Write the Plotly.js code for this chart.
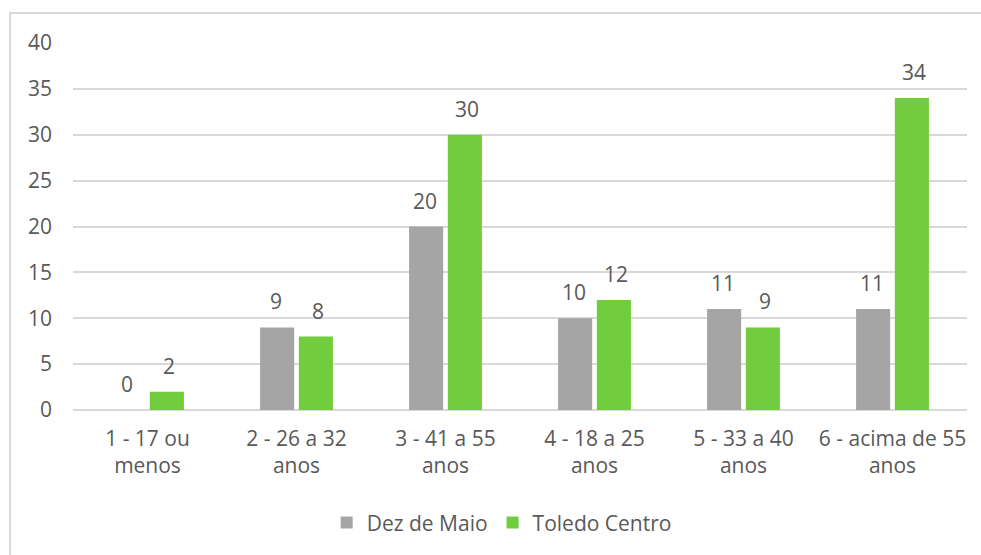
<!DOCTYPE html>
<html>
<head>
<meta charset="utf-8">
<script src="https://cdn.plot.ly/plotly-3.0.1.min.js"></script>
<style>
html,body{margin:0;padding:0;background:#fff;width:981px;height:555px;overflow:hidden;}
#frame{position:absolute;left:9px;top:12px;width:980px;height:550px;border:2px solid #d9d9d9;box-sizing:border-box;}
#chart{position:absolute;left:0;top:0;width:981px;height:555px;}
</style>
</head>
<body>
<div id="frame"></div>
<div id="chart"></div>
<script>
const categories = ["1 - 17 ou<br>menos", "2 - 26 a 32<br>anos", "3 - 41 a 55<br>anos", "4 - 18 a 25<br>anos", "5 - 33 a 40<br>anos", "6 - acima de 55<br>anos"];
const seriesNames = ["Dez de Maio", "Toledo Centro"];
const dezDeMaio = [0, 9, 20, 10, 11, 11];
const toledoCentro = [2, 8, 30, 12, 9, 34];
const yTicks = [0, 5, 10, 15, 20, 25, 30, 35, 40];

const txt = '#595959';
const fontFam = '"Open Sans", "Noto Sans", sans-serif';
const fs = 21;

const traces = [
  {type:'bar', name:seriesNames[0], x:categories, y:dezDeMaio, marker:{color:'#a5a5a5'}, hoverinfo:'none'},
  {type:'bar', name:seriesNames[1], x:categories, y:toledoCentro, marker:{color:'#71cc3e'}, hoverinfo:'none'}
];

const annotations = [];
[dezDeMaio, toledoCentro].forEach((vals, s) => {
  vals.forEach((v, i) => {
    annotations.push({x:categories[i], y:v, xref:'x', yref:'y', text:String(v), showarrow:false,
      xshift: s === 0 ? -21 : 21, yshift:26, yanchor:'middle', xanchor:'center',
      font:{family:fontFam, size:fs, color:txt}});
  });
});

const layout = {
  width:981, height:555,
  margin:{l:73, r:14, t:43, b:145, autoexpand:false},
  paper_bgcolor:'rgba(0,0,0,0)', plot_bgcolor:'rgba(0,0,0,0)',
  barmode:'group', bargap:0.48, bargroupgap:0.12,
  font:{family:fontFam, size:fs, color:txt},
  showlegend:true,
  legend:{orientation:'h', x:0.4795, xanchor:'center', yref:'container', y:0.058, yanchor:'middle',
    font:{family:fontFam, size:fs, color:txt}, tracegroupgap:0},
  xaxis:{type:'category', showgrid:false, zeroline:false, showline:false, ticks:'',
    tickfont:{family:fontFam, size:fs, color:txt}, ticklabelstandoff:14, automargin:false},
  yaxis:{range:[0,40], tickvals:yTicks, ticktext:yTicks.map(String), showgrid:true, gridcolor:'#d9d9d9', gridwidth:2,
    zeroline:true, zerolinecolor:'#d9d9d9', zerolinewidth:2, showline:false, ticks:'',
    tickfont:{family:fontFam, size:fs, color:txt}, ticklabelstandoff:20, automargin:false},
  annotations:annotations
};

Plotly.newPlot('chart', traces, layout, {displayModeBar:false, staticPlot:true});
</script>
</body>
</html>
